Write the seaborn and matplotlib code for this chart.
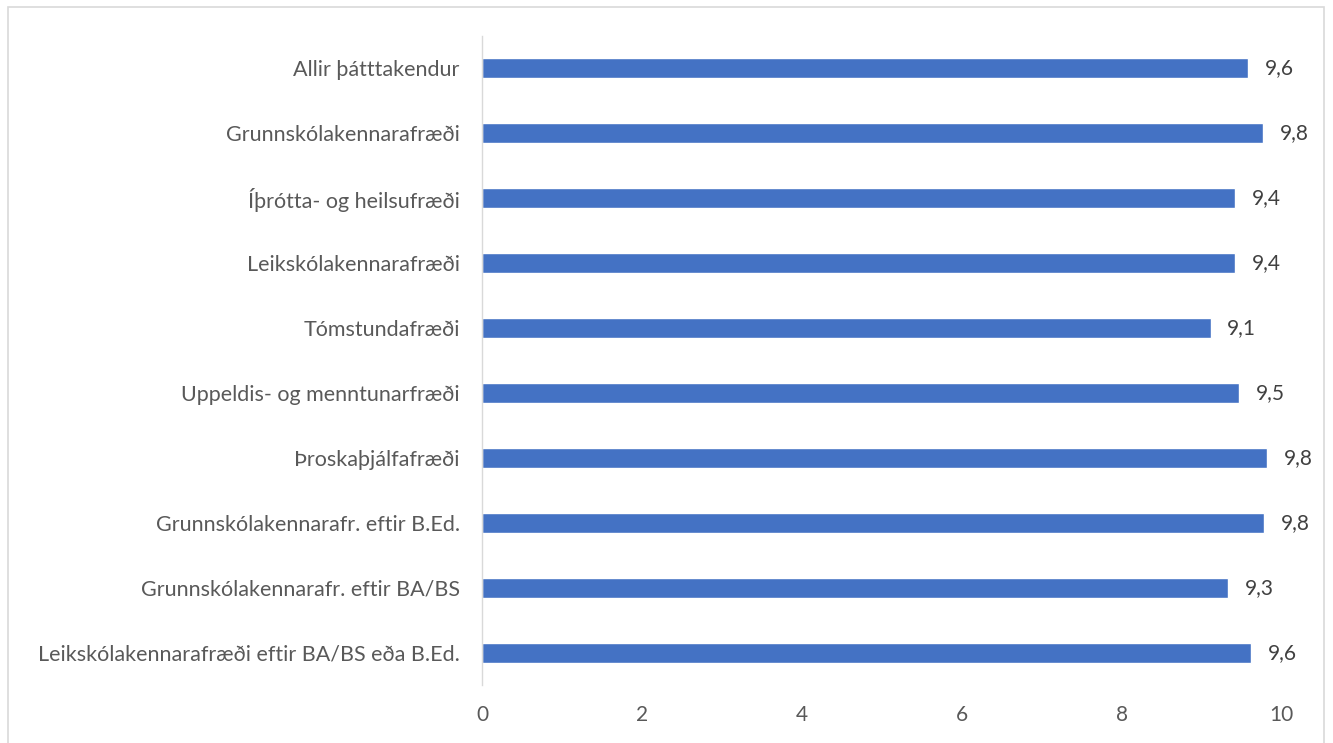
import matplotlib.pyplot as plt
import matplotlib.patches as mpatches
import seaborn as sns
import pandas as pd

sns.set_theme(style="white")
plt.rcParams["font.family"] = ["Lato", "DejaVu Sans"]

categories = [
    "Allir þátttakendur",
    "Grunnskólakennarafræði",
    "Íþrótta- og heilsufræði",
    "Leikskólakennarafræði",
    "Tómstundafræði",
    "Uppeldis- og menntunarfræði",
    "Þroskaþjálfafræði",
    "Grunnskólakennarafr. eftir B.Ed.",
    "Grunnskólakennarafr. eftir BA/BS",
    "Leikskólakennarafræði eftir BA/BS eða B.Ed.",
]
values = [9.58, 9.77, 9.42, 9.42, 9.11, 9.47, 9.82, 9.78, 9.33, 9.62]
xticks = [0, 2, 4, 6, 8, 10]

df = pd.DataFrame({"Hópur": categories, "Meðaltal": values})

text_col = "#595959"
fig = plt.figure(figsize=(13.33, 7.43), dpi=100)
ax = fig.add_axes([0.3616, 0.0774, 0.6, 0.8748])

sns.barplot(data=df, x="Meðaltal", y="Hópur", orient="h", color="#4472C4",
            saturation=1, width=0.31, ax=ax)

ax.bar_label(ax.containers[0], fmt=lambda v: f"{v:.1f}".replace(".", ","),
             padding=12, fontsize=15, color="#404040")

ax.set_xlim(0, 10)
ax.set_ylim(9.5, -0.5)
ax.set_xticks(xticks)
ax.set_xticklabels([str(t) for t in xticks])
ax.set_xlabel("")
ax.set_ylabel("")
ax.tick_params(axis="both", length=0, labelcolor=text_col)
ax.tick_params(axis="x", pad=14, labelsize=15)
ax.tick_params(axis="y", pad=16, labelsize=15.5)
for side in ["top", "right", "bottom"]:
    ax.spines[side].set_visible(False)
ax.spines["left"].set_color("#D9D9D9")
ax.spines["left"].set_linewidth(1)
ax.grid(False)

# chart frame (bottom edge runs off the canvas as in the source)
fig.patches.append(mpatches.Rectangle((8 / 1333, -5 / 743), 1316 / 1333, 741 / 743,
                                      transform=fig.transFigure, fill=False,
                                      edgecolor="#D9D9D9", linewidth=1.2))

fig.savefig("out.png", dpi=100)
